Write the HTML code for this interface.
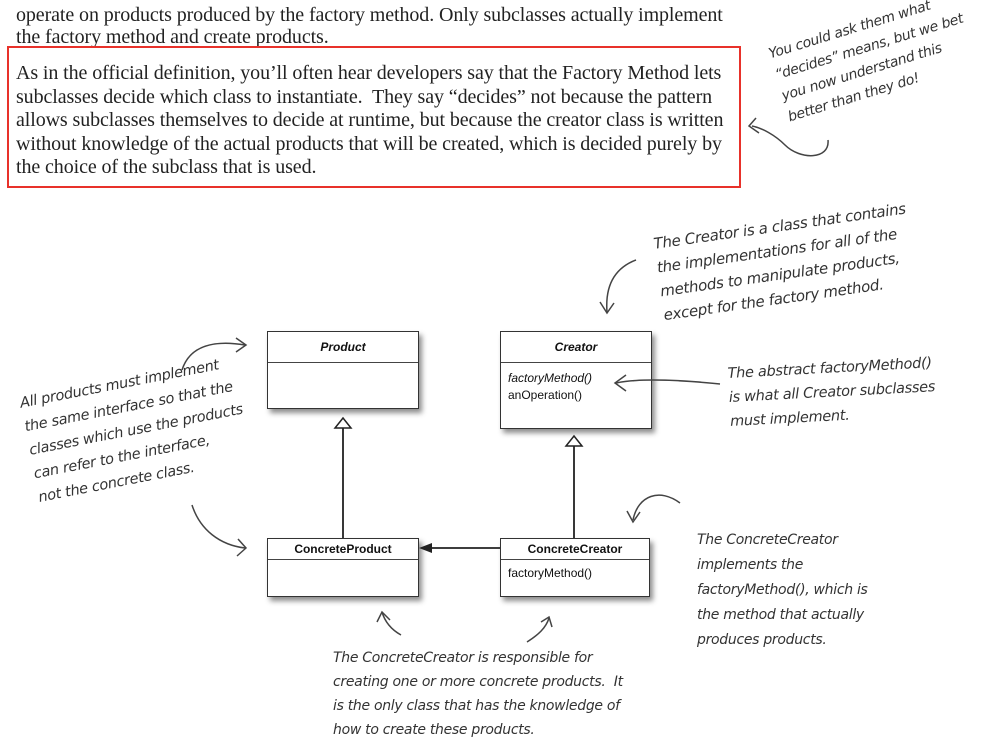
<!DOCTYPE html>
<html><head><meta charset="utf-8"><style>
body{margin:0;width:1001px;height:750px;background:#fff;position:relative;overflow:hidden;font-family:"Liberation Serif",serif;color:#222}
.l{position:absolute;left:16px;font-size:20px;white-space:nowrap;letter-spacing:-0.1px;line-height:22px}
.red{position:absolute;left:7px;top:46px;width:730px;height:138px;border:2.5px solid #e8312a}
.box{position:absolute;border:1px solid #333;background:#fff;box-shadow:3px 4px 5px rgba(0,0,0,.45);font-family:"Liberation Sans",sans-serif;font-size:12px;color:#111}
.hd{border-bottom:1px solid #444;text-align:center;font-weight:bold;height:20px;line-height:20px}
.m{padding-left:7px;line-height:17px}
.h{position:absolute;font-family:"DejaVu Sans",sans-serif;font-style:oblique;font-size:14px;color:#333;white-space:nowrap;line-height:24px;transform-origin:0 0;letter-spacing:-0.3px}
</style></head><body>
<div class="l" style="top:4px">operate on products produced by the factory method. Only subclasses actually implement</div>
<div class="l" style="top:26px">the factory method and create products.</div>
<div class="red"></div>
<div class="l" style="top:62px">As in the official definition, you’ll often hear developers say that the Factory Method lets</div>
<div class="l" style="top:86px">subclasses decide which class to instantiate.&nbsp; They say “decides” not because the pattern</div>
<div class="l" style="top:109px">allows subclasses themselves to decide at runtime, but because the creator class is written</div>
<div class="l" style="top:133px">without knowledge of the actual products that will be created, which is decided purely by</div>
<div class="l" style="top:156px">the choice of the subclass that is used.</div>

<div class="h" style="left:766px;top:44px;transform:rotate(-17deg);line-height:22px;font-size:14px">You could ask them what<br>“decides” means, but we bet<br>you now understand this<br>better than they do!</div>

<div class="h" style="left:652px;top:232px;transform:rotate(-8deg);line-height:24px;font-size:15px">The Creator is a class that contains<br>the implementations for all of the<br>methods to manipulate products,<br>except for the factory method.</div>
<div class="h" style="left:18px;top:392px;transform:rotate(-11deg);line-height:24px;font-size:14.5px">All products must implement<br>the same interface so that the<br>classes which use the products<br>can refer to the interface,<br>not the concrete class.</div>
<div class="h" style="left:727px;top:362px;transform:rotate(-3deg);line-height:24px;font-size:14.5px">The abstract factoryMethod()<br>is what all Creator subclasses<br>must implement.</div>
<div class="h" style="left:697px;top:528px;line-height:25px">The ConcreteCreator<br>implements the<br>factoryMethod(), which is<br>the method that actually<br>produces products.</div>
<div class="h" style="left:333px;top:646px;line-height:24px">The ConcreteCreator is responsible for<br>creating one or more concrete products.&nbsp; It<br>is the only class that has the knowledge of<br>how to create these products.</div>

<div class="box" style="left:267px;top:331px;width:150px;height:76px"><div class="hd" style="height:30px;line-height:30px;font-style:italic">Product</div></div>
<div class="box" style="left:500px;top:331px;width:150px;height:96px"><div class="hd" style="height:30px;line-height:30px;font-style:italic">Creator</div><div class="m" style="padding-top:7px;font-style:italic">factoryMethod()</div><div class="m">anOperation()</div></div>
<div class="box" style="left:267px;top:538px;width:150px;height:57px"><div class="hd">ConcreteProduct</div></div>
<div class="box" style="left:500px;top:538px;width:148px;height:57px"><div class="hd">ConcreteCreator</div><div class="m" style="padding-top:5px">factoryMethod()</div></div>

<svg style="position:absolute;left:0;top:0" width="1001" height="750">
<g stroke="#222" stroke-width="1.8" fill="none">
<line x1="343" y1="428" x2="343" y2="538"/>
<line x1="574" y1="446" x2="574" y2="538"/>
<line x1="500" y1="548" x2="430" y2="548"/>
</g>
<polygon points="343,418 335,428 351,428" fill="#fff" stroke="#222" stroke-width="1.5"/>
<polygon points="574,436 566,446 582,446" fill="#fff" stroke="#222" stroke-width="1.5"/>
<polygon points="419,548 432,543 432,553" fill="#222"/>
<g stroke="#444" stroke-width="1.5" fill="none">
<path d="M182 370 C190 345 215 340 245 345"/><path d="M236 338 L246 345 L236 352"/>
<path d="M192 505 C200 530 220 545 245 548"/><path d="M238 539 L246 548 L237 556"/>
<path d="M636 260 C615 268 605 285 607 312"/><path d="M600 302 L607 313 L614 303"/>
<path d="M720 384 C680 380 640 378 616 383"/><path d="M626 375 L615 383 L626 391"/>
<path d="M680 503 C660 488 638 495 633 520"/><path d="M627 511 L633 522 L640 512"/>
<path d="M401 635 C392 630 385 622 382 612"/><path d="M377 622 L382 612 L390 620"/>
<path d="M527 642 C538 635 546 628 549 618"/><path d="M541 622 L549 617 L552 627"/>
<path d="M828 140 C830 160 800 160 785 145 C775 135 762 128 752 126"/><path d="M756 118 L749 126 L759 133"/>
</g>
</svg>
</body></html>
